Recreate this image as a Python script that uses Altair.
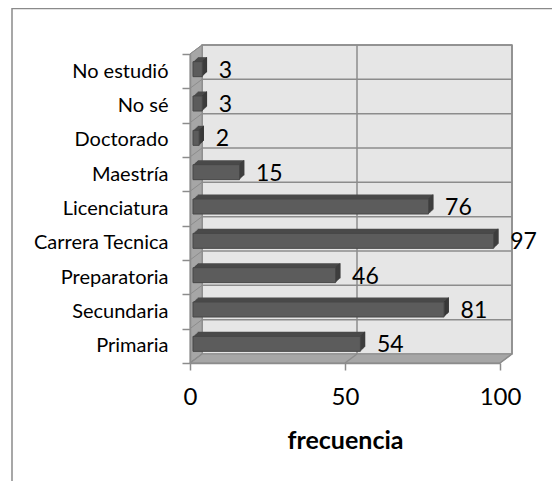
import altair as alt
import pandas as pd

# ---- data ----
categories = ["No estudió", "No sé", "Doctorado", "Maestría", "Licenciatura",
              "Carrera Tecnica", "Preparatoria", "Secundaria", "Primaria"]
values = [3, 3, 2, 15, 76, 97, 46, 81, 54]
x_ticks = [0, 50, 100]
x_title = "frecuencia"

# ---- layout / style constants ----
FONT = "Lato"
W, H = 310, 309            # front plane of the plot
DX, DY = 12, -9            # depth of the 3-D walls
BAR_DX, BAR_DY = 3, -2     # bar front face position inside the depth
BAR_SIZE = 15
EXT_STEPS = 5
EXT_SX, EXT_SY = 0.95, -0.9
STEP = H / len(categories)

WALL = "#e6e6e6"
SIDE_WALL = "#a6a6a6"
LINE = "#8c8c8c"
BAR_FRONT = "#5c5c5c"
BAR_TOP = "#4a4a4a"
BAR_SIDE = "#383838"

df = pd.DataFrame({"cat": categories, "val": values})
one = pd.DataFrame({"k": [0]})
ticks_df = pd.DataFrame({"t": x_ticks})

xs = alt.Scale(domain=[0, 100], nice=False, zero=False)
ys = alt.Scale(domain=categories, paddingInner=0, paddingOuter=0)


def X():
    return alt.X("val:Q", scale=xs, axis=None)


def Y():
    return alt.Y("cat:N", scale=ys, axis=None)


# outer frame of the chart area
border = alt.Chart(one).mark_rect(fillOpacity=0, stroke="#8a8a8a", strokeWidth=1.5).encode(
    x=alt.value(-178), x2=alt.value(420), y=alt.value(-45.5), y2=alt.value(480))

# back wall
wall = alt.Chart(one).mark_rect(fill=WALL, stroke=LINE, strokeWidth=1.5,
                                xOffset=DX, x2Offset=DX).encode(
    x=alt.X(datum=0, scale=xs, axis=None), x2=alt.X2(datum=100),
    y=alt.value(DY), y2=alt.value(H + DY))

# horizontal grid lines on the back wall (band boundaries)
hgrid = alt.Chart(df).mark_rule(color=LINE, strokeWidth=1.5, xOffset=DX, x2Offset=DX,
                                yOffset=DY).encode(
    x=alt.X(datum=0, scale=xs, axis=None), x2=alt.X2(datum=100),
    y=alt.Y("cat:N", scale=ys, axis=None, bandPosition=0))

# vertical grid lines on the back wall
vgrid = alt.Chart(ticks_df).mark_rule(color=LINE, strokeWidth=1.5, xOffset=DX).encode(
    x=alt.X("t:Q", scale=xs, axis=None), y=alt.value(DY), y2=alt.value(H + DY))

# left wall
lw = pd.DataFrame({"px": [0, DX], "top": [0, DY], "bot": [H, H + DY]})
left_wall = alt.Chart(lw).mark_area(color=SIDE_WALL, stroke=LINE, strokeWidth=1,
                                    orient="vertical").encode(
    x=alt.X("px:Q", scale=None), y=alt.Y("top:Q", scale=None), y2="bot:Q")

# diagonal lines on the left wall
lwd = pd.DataFrame({"y0": [k * STEP for k in range(len(categories) + 1)]})
left_diag = alt.Chart(lwd).transform_calculate(y1=f"datum.y0 + ({DY})").mark_rule(
    color=LINE, strokeWidth=1).encode(
    x=alt.value(0), x2=alt.value(DX),
    y=alt.Y("y0:Q", scale=None), y2="y1:Q")

# floor
fl = pd.DataFrame({"py": [H, H + DY], "l": [0, DX], "r": [W, W + DX]})
floor = alt.Chart(fl).mark_area(color=SIDE_WALL, stroke=LINE, strokeWidth=1,
                                orient="horizontal").encode(
    y=alt.Y("py:Q", scale=None), x=alt.X("l:Q", scale=None), x2="r:Q")

# diagonal grid lines on the floor
floor_grid = alt.Chart(ticks_df).mark_rule(color=LINE, strokeWidth=1.5, x2Offset=DX).encode(
    x=alt.X("t:Q", scale=xs, axis=None), x2="t:Q",
    y=alt.value(H), y2=alt.value(H + DY))

# 3-D bars: extrusion steps (top + side), then front face
bar_layers = []
for k in range(EXT_STEPS, 0, -1):
    ox = BAR_DX + k * EXT_SX
    oy = BAR_DY + k * EXT_SY
    bar_layers.append(alt.Chart(df).mark_bar(size=BAR_SIZE, color=BAR_TOP, xOffset=ox,
                                             x2Offset=ox, yOffset=oy).encode(x=X(), y=Y()))
    bar_layers.append(alt.Chart(df).mark_bar(size=BAR_SIZE, color=BAR_SIDE, xOffset=ox,
                                             x2Offset=ox - EXT_SX, yOffset=oy).encode(
        x=X(), x2="val:Q", y=Y()))
front = alt.Chart(df).mark_bar(size=BAR_SIZE, color=BAR_FRONT, stroke="#464646", strokeWidth=1,
                               xOffset=BAR_DX, x2Offset=BAR_DX, yOffset=BAR_DY).encode(
    x=X(), y=Y())

labels = alt.Chart(df).mark_text(align="left", baseline="middle", dx=19.5, dy=-0.5,
                                 fontSize=23, font=FONT, color="black").encode(
    x=X(), y=Y(), text="val:Q")

# axes
axes = alt.Chart(df).mark_point(opacity=0).encode(
    x=alt.X("val:Q", scale=xs, axis=alt.Axis(
        orient="bottom", values=x_ticks, title=x_title, grid=False, zindex=1,
        domainColor=LINE, domainWidth=1.5, tickColor=LINE, tickWidth=1.5, tickSize=7,
        labelFont=FONT, labelFontSize=24, labelColor="black", labelPadding=15,
        labelFlush=False, labelOverlap=False,
        titleFont=FONT, titleFontSize=25, titleFontWeight="bold", titleColor="black",
        titleX=W / 2, titleY=85, titleBaseline="alphabetic", titleAlign="center")),
    y=alt.Y("cat:N", scale=ys, axis=alt.Axis(
        orient="left", title=None, grid=False, zindex=1, tickBand="extent",
        domainColor=LINE, domainWidth=1.5, tickColor=LINE, tickWidth=1.5, tickSize=8,
        labelFont=FONT, labelFontSize=20, labelColor="black", labelPadding=14)))

chart = alt.layer(border, wall, hgrid, vgrid, left_wall, left_diag, floor, floor_grid,
                  *bar_layers, front, labels, axes).resolve_scale(
    x="independent", y="independent").properties(
    width=W, height=H,
    padding={"left": 182, "top": 46, "right": 52, "bottom": 118},
    autosize=alt.AutoSizeParams(type="none"),
    background="white",
).configure_view(stroke=None).configure(font=FONT)

chart.save("out.html", embed_options={"renderer": "svg", "actions": False})
